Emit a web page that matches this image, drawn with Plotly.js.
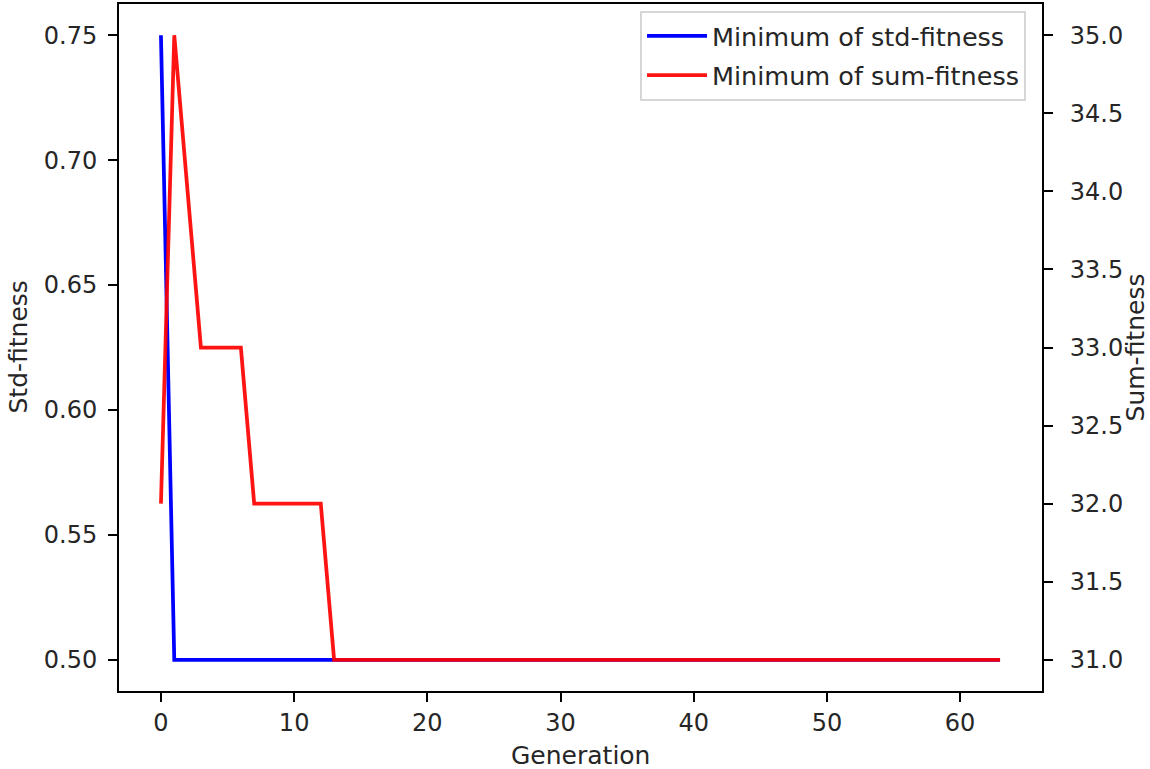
<!DOCTYPE html>
<html>
<head>
<meta charset="utf-8">
<script src="https://cdn.plot.ly/plotly-3.0.1.min.js"></script>
<style>html,body{margin:0;padding:0;background:#fff;}#chart{width:1150px;height:769px;}</style>
</head>
<body>
<div id="chart"></div>
<script>
const generations = Array.from({length: 64}, (_, i) => i);
const stdFitness = [0.75, 0.5, 0.5, 0.5, 0.5, 0.5, 0.5, 0.5, 0.5, 0.5, 0.5, 0.5, 0.5, 0.5, 0.5, 0.5,
  0.5, 0.5, 0.5, 0.5, 0.5, 0.5, 0.5, 0.5, 0.5, 0.5, 0.5, 0.5, 0.5, 0.5, 0.5, 0.5,
  0.5, 0.5, 0.5, 0.5, 0.5, 0.5, 0.5, 0.5, 0.5, 0.5, 0.5, 0.5, 0.5, 0.5, 0.5, 0.5,
  0.5, 0.5, 0.5, 0.5, 0.5, 0.5, 0.5, 0.5, 0.5, 0.5, 0.5, 0.5, 0.5, 0.5, 0.5, 0.5];
const sumFitness = [32, 35, 34, 33, 33, 33, 33, 32, 32, 32, 32, 32, 32, 31, 31, 31,
  31, 31, 31, 31, 31, 31, 31, 31, 31, 31, 31, 31, 31, 31, 31, 31,
  31, 31, 31, 31, 31, 31, 31, 31, 31, 31, 31, 31, 31, 31, 31, 31,
  31, 31, 31, 31, 31, 31, 31, 31, 31, 31, 31, 31, 31, 31, 31, 31];
const xTicks = [0, 10, 20, 30, 40, 50, 60];
const stdTicks = [0.50, 0.55, 0.60, 0.65, 0.70, 0.75];
const sumTicks = [31.0, 31.5, 32.0, 32.5, 33.0, 33.5, 34.0, 34.5, 35.0];

const font = {family: 'DejaVu Sans', size: 25, color: '#262626'};
const legendFont = {family: 'DejaVu Sans', size: 25.5, color: '#262626'};
const tickFont = {family: 'DejaVu Sans', size: 24, color: '#262626'};

const traces = [
  {x: generations, y: stdFitness, type: 'scatter', mode: 'lines', name: 'Minimum of std-fitness',
   legendgroup: 'std', line: {color: '#0000ff', width: 3.75}, yaxis: 'y'},
  {x: generations, y: sumFitness, type: 'scatter', mode: 'lines', name: 'Minimum of sum-fitness',
   legendgroup: 'sum', line: {color: 'rgba(255,0,0,0.92)', width: 3.75}, yaxis: 'y2'}
];

const axisCommon = {
  showgrid: false, zeroline: false, showline: true, linecolor: '#000', linewidth: 2,
  ticks: 'outside', ticklen: 9, tickwidth: 2, tickcolor: '#000', tickfont: tickFont
};

const layout = {
  width: 1150, height: 769,
  margin: {l: 119, r: 108, t: 4, b: 78},
  paper_bgcolor: '#fff', plot_bgcolor: '#fff',
  font: font,
  showlegend: true,
  legend: {x: 0.9827, y: 0.99, xanchor: 'right', yanchor: 'top', bgcolor: 'rgba(255,255,255,0.8)',
           bordercolor: '#d6d6d6', borderwidth: 2, font: legendFont, tracegroupgap: 3, itemwidth: 60,
           traceorder: 'grouped'},
  xaxis: Object.assign({}, axisCommon, {
    range: [-3.15, 66.15], tickvals: xTicks, mirror: true, ticklabelstandoff: 0
  }),
  yaxis: Object.assign({}, axisCommon, {
    range: [0.4875, 0.7625], tickvals: stdTicks, tickformat: '.2f', ticklabelstandoff: 6
  }),
  yaxis2: Object.assign({}, axisCommon, {
    range: [30.8, 35.2], tickvals: sumTicks, tickformat: '.1f', ticklabelstandoff: 12,
    overlaying: 'y', side: 'right'
  }),
  annotations: [
    {text: 'Generation', xref: 'paper', yref: 'paper', x: 0.5, y: -0.094, xanchor: 'center',
     yanchor: 'middle', showarrow: false, font: font},
    {text: 'Std-fitness', xref: 'paper', yref: 'paper', x: -0.1094, y: 0.5, xanchor: 'center',
     yanchor: 'middle', textangle: -90, showarrow: false, font: font},
    {text: 'Sum-fitness', xref: 'paper', yref: 'paper', x: 1.1018, y: 0.5, xanchor: 'center',
     yanchor: 'middle', textangle: -90, showarrow: false, font: font}
  ]
};

Plotly.newPlot('chart', traces, layout, {displayModeBar: false, staticPlot: true});
</script>
</body>
</html>
